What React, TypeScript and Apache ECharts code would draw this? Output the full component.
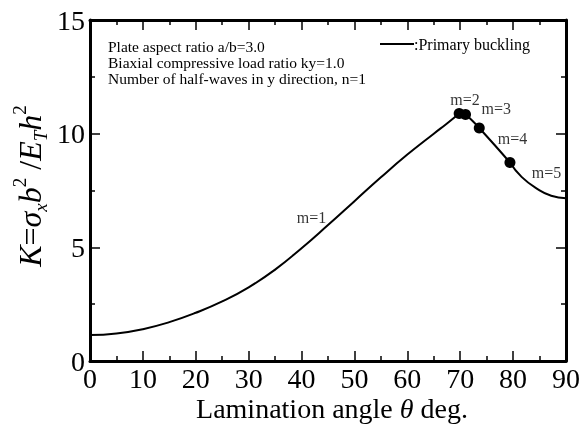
import React, { useEffect, useRef } from "react";
import * as echarts from "echarts";

// m = 1 .. 5 buckling-mode segments (lamination angle θ in deg, K)
const thetaM1 = [0, 5, 10, 15, 20, 25, 30, 35, 40, 45, 50, 55, 60, 65, 67.5, 69.8];
const kM1 = [1.14, 1.21, 1.4, 1.71, 2.12, 2.62, 3.24, 4.02, 4.96, 5.98, 7.03, 8.08, 9.08, 10.0, 10.45, 10.89];
const thetaM2 = [69.8, 71.0];
const kM2 = [10.89, 10.84];
const thetaM3 = [71.0, 72.3, 73.6];
const kM3 = [10.84, 10.57, 10.25];
const thetaM4 = [73.6, 76.5, 79.4];
const kM4 = [10.25, 9.5, 8.73];
const thetaM5 = [79.4, 81.6, 84.7, 87.2, 90];
const kM5 = [8.73, 8.1, 7.55, 7.27, 7.16];

// mode-transition points
const dotTheta = [69.8, 71.0, 73.6, 79.4];
const dotK = [10.89, 10.84, 10.25, 8.73];

// mode labels
const labelText = ["m=1", "m=2", "m=3", "m=4", "m=5"];
const labelTheta = [41.9, 70.9, 76.8, 79.9, 86.3];
const labelK = [6.31, 11.52, 11.12, 9.8, 8.31];

const xTicks = [0, 10, 20, 30, 40, 50, 60, 70, 80, 90];
const yTicks = [0, 5, 10, 15];

const infoLines = [
  "Plate aspect ratio a/b=3.0",
  "Biaxial compressive load ratio ky=1.0",
  "Number of half-waves in y direction, n=1",
];
const legendText = ":Primary buckling";

const FONT = "'Liberation Serif', 'Times New Roman', serif";

function zip(a: number[], b: number[]) {
  return a.map((v, i) => [v, b[i]]);
}

export default function App() {
  const ref = useRef<HTMLDivElement>(null);
  useEffect(() => {
    if (!ref.current) return;
    const chart = echarts.init(ref.current, undefined, { renderer: "svg" });
    const axisCommon = {
      axisLine: { show: true, onZero: false, lineStyle: { color: "#000", width: 3 } },
      axisTick: { show: true, inside: true, length: 10, lineStyle: { color: "#000", width: 1.5 } },
      minorTick: { show: true, splitNumber: 2, length: 5, lineStyle: { color: "#000", width: 1.5 } },
      splitLine: { show: false },
      minorSplitLine: { show: false },
    };
    const xBase = { type: "value", min: xTicks[0], max: xTicks[xTicks.length - 1], interval: 10 };
    const yBase = { type: "value", min: yTicks[0], max: yTicks[yTicks.length - 1], interval: 5 };
    const segs = [
      [thetaM1, kM1],
      [thetaM2, kM2],
      [thetaM3, kM3],
      [thetaM4, kM4],
      [thetaM5, kM5],
    ];
    const lineSeries = segs.map(([t, k]) => ({
      type: "line",
      data: zip(t as number[], k as number[]),
      smooth: 0.5,
      showSymbol: false,
      symbol: "none",
      lineStyle: { color: "#000", width: 2 },
      xAxisIndex: 0,
      yAxisIndex: 0,
    }));
    chart.setOption({
      animation: false,
      grid: { left: 90, right: 15, top: 20, bottom: 77, containLabel: false },
      xAxis: [
        {
          ...xBase,
          position: "bottom",
          ...axisCommon,
          axisLabel: { color: "#000", fontSize: 28, fontFamily: FONT, margin: 3 },
        },
        {
          ...xBase,
          position: "top",
          ...axisCommon,
          axisLabel: { show: false },
        },
      ],
      yAxis: [
        {
          ...yBase,
          position: "left",
          ...axisCommon,
          axisLabel: { color: "#000", fontSize: 28, fontFamily: FONT, margin: 5 },
        },
        {
          ...yBase,
          position: "right",
          ...axisCommon,
          axisLabel: { show: false },
        },
      ],
      series: [
        ...lineSeries,
        {
          type: "scatter",
          data: zip(dotTheta, dotK),
          symbol: "circle",
          symbolSize: 11,
          itemStyle: { color: "#000", opacity: 1 },
          xAxisIndex: 0,
          yAxisIndex: 0,
          z: 5,
        },
        {
          type: "scatter",
          data: labelText.map((t, i) => ({ value: [labelTheta[i], labelK[i]], name: t })),
          symbolSize: 0,
          label: {
            show: true,
            position: "inside",
            formatter: (p: any) => p.name,
            color: "#000",
            fontSize: 16,
            fontFamily: FONT,
          },
          xAxisIndex: 0,
          yAxisIndex: 0,
          z: 6,
        },
      ],
      graphic: [
        ...infoLines.map((t, i) => ({
          type: "text",
          x: 108,
          y: 46.5 + i * 16,
          style: {
            text: t,
            fill: "#000",
            font: `15.5px ${FONT}`,
            lineHeight: 15.5,
            align: "left",
            verticalAlign: "middle",
          },
        })),
        {
          type: "line",
          shape: { x1: 380, y1: 44, x2: 414, y2: 44 },
          style: { stroke: "#000", lineWidth: 2 },
        },
        {
          type: "text",
          x: 414,
          y: 44,
          style: { text: legendText, fill: "#000", font: `16px ${FONT}`, align: "left", verticalAlign: "middle" },
        },
        {
          type: "text",
          x: 332,
          y: 408,
          style: {
            text: "{n|Lamination angle }{i|θ}{n| deg.}",
            align: "center",
            verticalAlign: "middle",
            fill: "#000",
            rich: {
              n: { fontSize: 28, fontFamily: FONT, fill: "#000" },
              i: { fontSize: 28, fontFamily: FONT, fontStyle: "italic", fill: "#000" },
            },
          },
        },
        {
          type: "text",
          x: 30,
          y: 186,
          rotation: Math.PI / 2,
          style: {
            text: "{i|K}{n|=}{i|σ}{sub|x}{i|b}{sup|2}{n| /}{i|E}{sub|T}{i|h}{sup|2}",
            align: "center",
            verticalAlign: "middle",
            fill: "#000",
            rich: {
              i: { fontSize: 32, fontFamily: FONT, fontStyle: "italic", lineHeight: 40, fill: "#000" },
              n: { fontSize: 32, fontFamily: FONT, lineHeight: 40, fill: "#000" },
              sub: { fontSize: 19, fontFamily: FONT, fontStyle: "italic", lineHeight: 19, verticalAlign: "bottom", fill: "#000" },
              sup: { fontSize: 19, fontFamily: FONT, lineHeight: 19, verticalAlign: "top", fill: "#000" },
            },
          },
        },
      ],
    });
    return () => chart.dispose();
  }, []);
  return <div ref={ref} style={{ position: "fixed", left: 0, top: 0, width: 583, height: 438 }} />;
}
